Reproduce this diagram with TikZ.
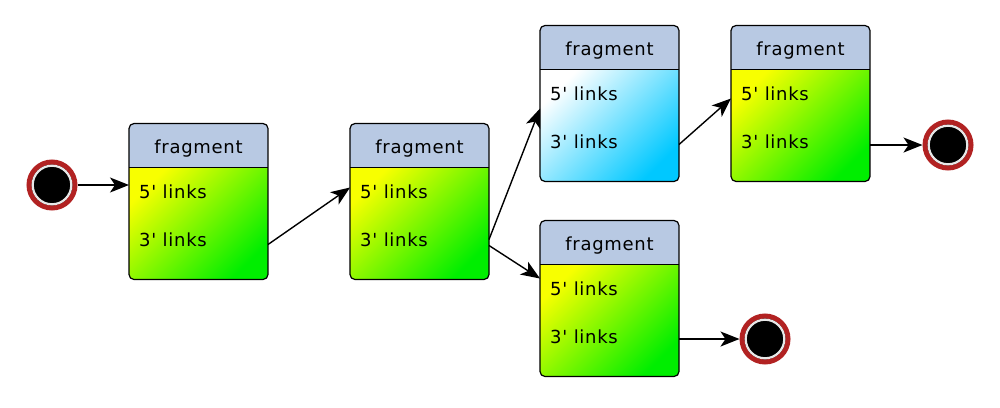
\documentclass[tikz,border=0pt]{standalone}
\usepackage{fontspec}
\newfontfamily\lblfont[LetterSpace=4]{DejaVu Sans}
\usetikzlibrary{arrows.meta,calc}
\definecolor{hdr}{HTML}{B8C9E3}
\definecolor{gtop}{HTML}{F8FF00}
\definecolor{gbot}{HTML}{00EE00}
\definecolor{btop}{HTML}{FFFFFF}
\definecolor{bbot}{HTML}{00C8FF}
\definecolor{ringred}{HTML}{B22222}
\definecolor{ringgray}{HTML}{E8E8E8}
\tikzset{
  frag/.style={rectangle, inner sep=0pt, outer sep=0pt, minimum width=139pt, minimum height=156pt, anchor=north west},
  lbl/.style={inner sep=0pt, font=\lblfont\fontsize{18}{21}\selectfont},
  greenbody/.style={top color=gtop, bottom color=gbot, shading angle=45},
  bluebody/.style={top color=btop, bottom color=bbot, shading angle=45},
  arr/.style={line width=1.4pt, -{Stealth[length=19pt,width=15pt,inset=5pt]}},
  endc/.style={circle, inner sep=0pt, minimum size=46pt, fill=black, draw=ringred, line width=5pt}
}
\newcommand{\fragnode}[4]{%
  \node[frag] (#1) at (#2,#3) {};
  \begin{scope}
    \clip[rounded corners=5pt] (#1.north west) rectangle (#1.south east);
    \shade[#4] ([yshift=-44pt]#1.north west) rectangle (#1.south east);
    \fill[hdr] (#1.north west) rectangle ([yshift=-44pt]#1.north east);
  \end{scope}
  \draw[line width=1.2pt] ([yshift=-44pt]#1.north west) -- ([yshift=-44pt]#1.north east);
  \draw[rounded corners=5pt, line width=1.2pt] (#1.north west) rectangle (#1.south east);
  \node[lbl, anchor=base] (#1-h) at ([yshift=-29.5pt]#1.north) {fragment};
  \node[lbl, anchor=base west] (#1-5) at ([xshift=10pt,yshift=-75pt]#1.north west) {5' links};
  \node[lbl, anchor=base west] (#1-3) at ([xshift=10pt,yshift=-123pt]#1.north west) {3' links};
}
\newcommand{\termnode}[3]{%
  \node[endc] (#1) at (#2,#3) {};
  \draw[ringgray, line width=2.2pt] (#1.center) circle (19.3pt);
}
\begin{document}
\begin{tikzpicture}[x=1pt,y=-1pt]
\useasboundingbox (0,0) rectangle (1000,407);
\fragnode{f1}{129}{123.5}{greenbody}
\fragnode{f2}{350}{123.5}{greenbody}
\fragnode{f3}{540}{25.5}{bluebody}
\fragnode{f4}{731}{25.5}{greenbody}
\fragnode{f5}{540}{220.5}{greenbody}
\termnode{s}{52}{185}
\termnode{e1}{948}{145}
\termnode{e2}{765}{339}
\draw[arr] (s) -- (s -| f1.west);
\draw[arr] ([yshift=-121pt]f1.north east) -- ([yshift=-64pt]f2.north west);
\draw[arr] ([yshift=-116pt]f2.north east) -- ([yshift=-83pt]f3.north west);
\draw[arr] ([yshift=-122pt]f2.north east) -- ([yshift=-58pt]f5.north west);
\draw[arr] ([yshift=-119pt]f3.north east) -- ([yshift=-73pt]f4.north west);
\draw[arr] (e1 -| f4.east) -- (e1);
\draw[arr] (e2 -| f5.east) -- (e2);
\end{tikzpicture}
\end{document}
